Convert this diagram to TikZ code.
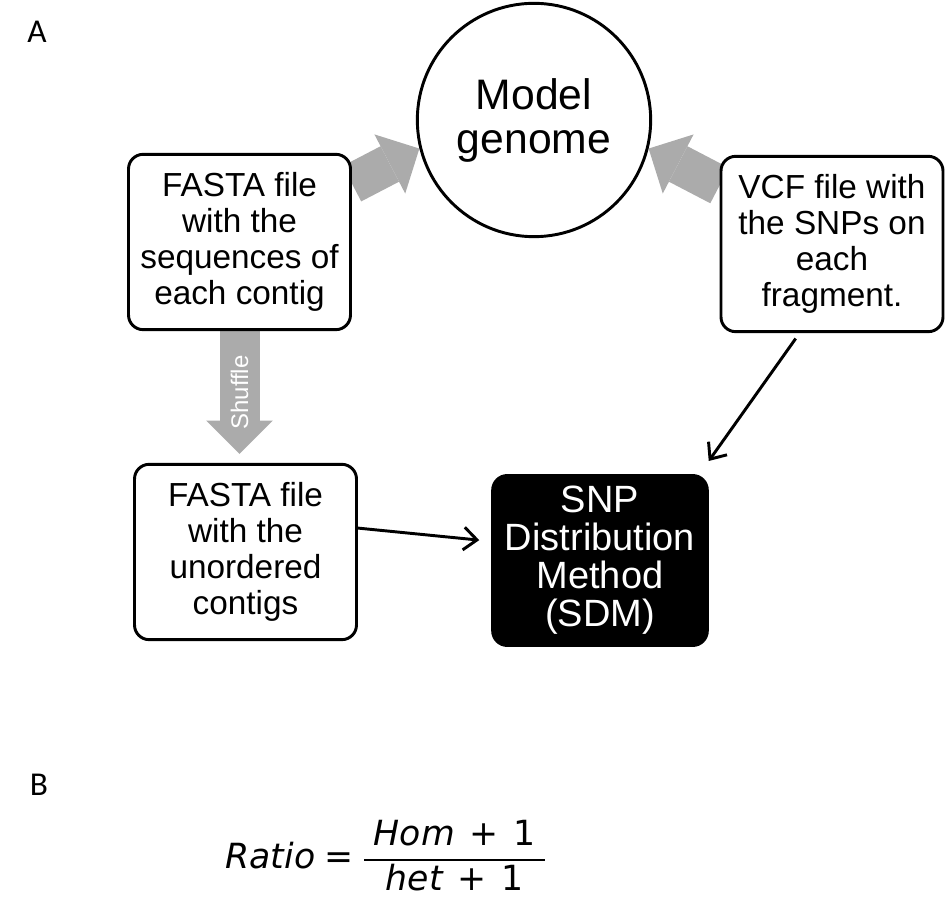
\documentclass[tikz,border=0pt]{standalone}
\usepackage{amsmath}
\usepackage{fontspec}
\setmainfont{Liberation Sans}
\newfontfamily\labelfont{Carlito}
\newfontfamily\ratiofont{DejaVu Sans}[ItalicFont={DejaVu Sans Oblique}]
\usetikzlibrary{arrows.meta,calc,backgrounds}
\definecolor{arrowgray}{RGB}{171,171,171}

\begin{document}
\begin{tikzpicture}[x=0.75pt,y=-0.75pt]
    \tikzstyle{filebox}=[rectangle, rounded corners=11pt, draw, line width=2.2pt, fill=white, minimum width=166.5pt, minimum height=131.5pt, inner sep=0pt, align=center, font=\fontsize{25}{27}\selectfont]
    \tikzstyle{sdmbox}=[filebox, fill=black, text=white, minimum width=161pt, minimum height=127.5pt, font=\fontsize{28.5}{28.5}\selectfont]
    \tikzstyle{genome}=[circle, draw, line width=2.2pt, fill=white, minimum size=175pt, inner sep=0pt, align=center, font=\fontsize{32}{33}\selectfont]
    \tikzstyle{bigarrow}=[line width=30pt, draw=arrowgray, -{Triangle[length=25pt,width=50pt,line width=0pt]}]
    \tikzstyle{link}=[line width=2.2pt, -{Straight Barb[length=10pt,width=17pt]}]
    \tikzstyle{panel}=[font=\labelfont\fontsize{25}{25}\selectfont]
    \useasboundingbox (0,0) rectangle (947,912);
    \node[panel] (labA) at (37,32) {A};
    \node[genome] (model) at (534,120) {Model\\genome};
    \node[filebox] (fasta) at (239.5,242) {FASTA file\\with the\\sequences of\\each contig};
    \node[filebox] (vcf) at (832,244) {VCF file with\\the SNPs on\\each\\fragment.};
    \node[filebox] (unord) at (245.5,552) {FASTA file\\with the\\unordered\\contigs};
    \node[sdmbox] (sdm) at (600,560.5) {SNP\\Distribution\\Method\\(SDM)};
    \begin{scope}[on background layer]
    \draw[bigarrow] (fasta) -- (model.194);
    \draw[bigarrow] (vcf) -- (model.346);
    \draw[bigarrow] (fasta.south) -- ($(fasta.south |- unord.north)+(0,-9)$)
        node[midway, rotate=90, text=white, font=\fontsize{18}{18}\selectfont] {Shuffle};
    \end{scope}
    \draw[link, shorten <=5pt, shorten >=12pt] (vcf.250) -- (sdm.41);
    \draw[link, shorten >=9pt] (unord.12) -- (sdm.170);
    \node[panel] (labB) at (39,785) {B};
    \node (ratio) at (386,856) {\ratiofont\fontsize{26}{32}\selectfont
        $\textit{Ratio} \mathrel{\text{=}} \dfrac{\hspace{7pt}\textit{Hom}\mkern4mu\mathbin{\text{+}}\mkern4mu\text{1}\hspace{7pt}}{\textit{het}\mkern4mu\mathbin{\text{+}}\mkern4mu\text{1}}$};
\end{tikzpicture}
\end{document}
